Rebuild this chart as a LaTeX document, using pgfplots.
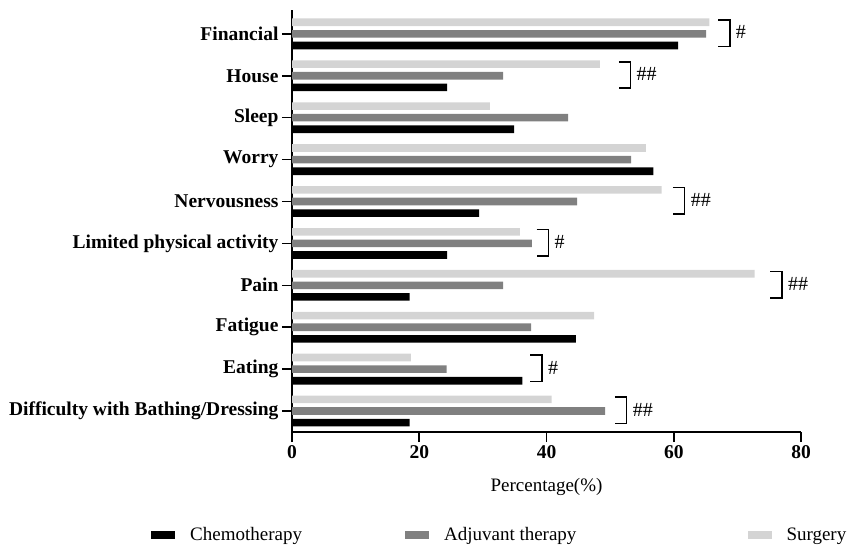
\documentclass[border=0pt]{standalone}
\usepackage{fontspec}
\setmainfont{Liberation Serif}
\usepackage{pgfplots}
\pgfplotsset{compat=1.18}

\definecolor{chemo}{HTML}{000000}
\definecolor{adju}{HTML}{808080}
\definecolor{surg}{HTML}{D4D4D4}

\newcommand\sz{\fontsize{19}{23}\selectfont}
\newcommand\szb{\fontsize{19.5}{23}\selectfont\bfseries}

% significance bracket: x of the vertical stroke, category index, mark
\newcommand\sigbracket[3]{%
  \draw[line width=1.6pt, line join=miter]
    ([shift={(-11.7pt,14pt)}]axis cs:#1,#2) -- ([shift={(0pt,14pt)}]axis cs:#1,#2)
    -- ([shift={(0pt,-12.5pt)}]axis cs:#1,#2) -- ([shift={(-11.7pt,-12.5pt)}]axis cs:#1,#2);
  \node[anchor=west, inner sep=0pt, font=\fontsize{20}{23}\selectfont]
    at ([shift={(6pt,1.5pt)}]axis cs:#1,#2) {#3};
}

\begin{document}
\begin{tikzpicture}
\useasboundingbox (0,0) rectangle (851pt,544pt);
\begin{axis}[
  at={(292pt,112pt)}, anchor=south west,
  scale only axis, width=509pt, height=422pt,
  xbar, bar width=7.6pt,
  xmin=0, xmax=80, ymin=-0.5, ymax=9.57,
  axis lines*=left,
  axis line style={line width=1.6pt},
  xtick={0,20,40,60,80},
  ytick={0,...,9},
  yticklabels={Difficulty with Bathing/Dressing, Eating, Fatigue, Pain,
    Limited physical activity, Nervousness, Worry, Sleep, House, Financial},
  tick align=outside,
  major tick length=10pt,
  every tick/.style={black, line width=1.6pt},
  /pgf/number format/assume math mode=true,
  ticklabel style={font=\szb},
  xlabel={Percentage(\%)},
  xlabel style={font=\sz, at={(axis description cs:0.5,-0.13)}, anchor=center},
  legend columns=3,
  legend image code/.code={\fill[#1] (0pt,-4pt) rectangle (24pt,4pt);},
  legend style={draw=none, fill=none, at={(axis description cs:-0.277,-0.244)},
    anchor=west, font=\sz, column sep=0pt, row sep=0pt, inner sep=0pt,
    nodes={inner sep=0pt},
    /tikz/column 1/.style={column sep=15pt},
    /tikz/column 2/.style={column sep=103pt},
    /tikz/column 3/.style={column sep=15pt},
    /tikz/column 4/.style={column sep=171pt},
    /tikz/column 5/.style={column sep=15pt}},
  clip=false,
]
% 0 Bathing/Dressing, 1 Eating, 2 Fatigue, 3 Pain, 4 Limited activity,
% 5 Nervousness, 6 Worry, 7 Sleep, 8 House, 9 Financial
\addplot[fill=chemo, draw=none, bar shift=-11.6pt] coordinates {
  (18.5,0) (36.2,1) (44.6,2) (18.5,3) (24.4,4)
  (29.4,5) (56.8,6) (34.9,7) (24.4,8) (60.7,9)};
\addplot[fill=adju, draw=none, bar shift=0pt] coordinates {
  (49.2,0) (24.3,1) (37.6,2) (33.2,3) (37.7,4)
  (44.8,5) (53.3,6) (43.4,7) (33.2,8) (65.1,9)};
\addplot[fill=surg, draw=none, bar shift=11.6pt] coordinates {
  (40.8,0) (18.7,1) (47.5,2) (72.7,3) (35.8,4)
  (58.1,5) (55.6,6) (31.1,7) (48.4,8) (65.6,9)};
\legend{Chemotherapy, Adjuvant therapy, Surgery}

\sigbracket{68.8}{9}{\#}
\sigbracket{53.2}{8}{\#\#}
\sigbracket{61.7}{5}{\#\#}
\sigbracket{40.3}{4}{\#}
\sigbracket{77.0}{3}{\#\#}
\sigbracket{39.3}{1}{\#}
\sigbracket{52.6}{0}{\#\#}
\end{axis}
\end{tikzpicture}
\end{document}
